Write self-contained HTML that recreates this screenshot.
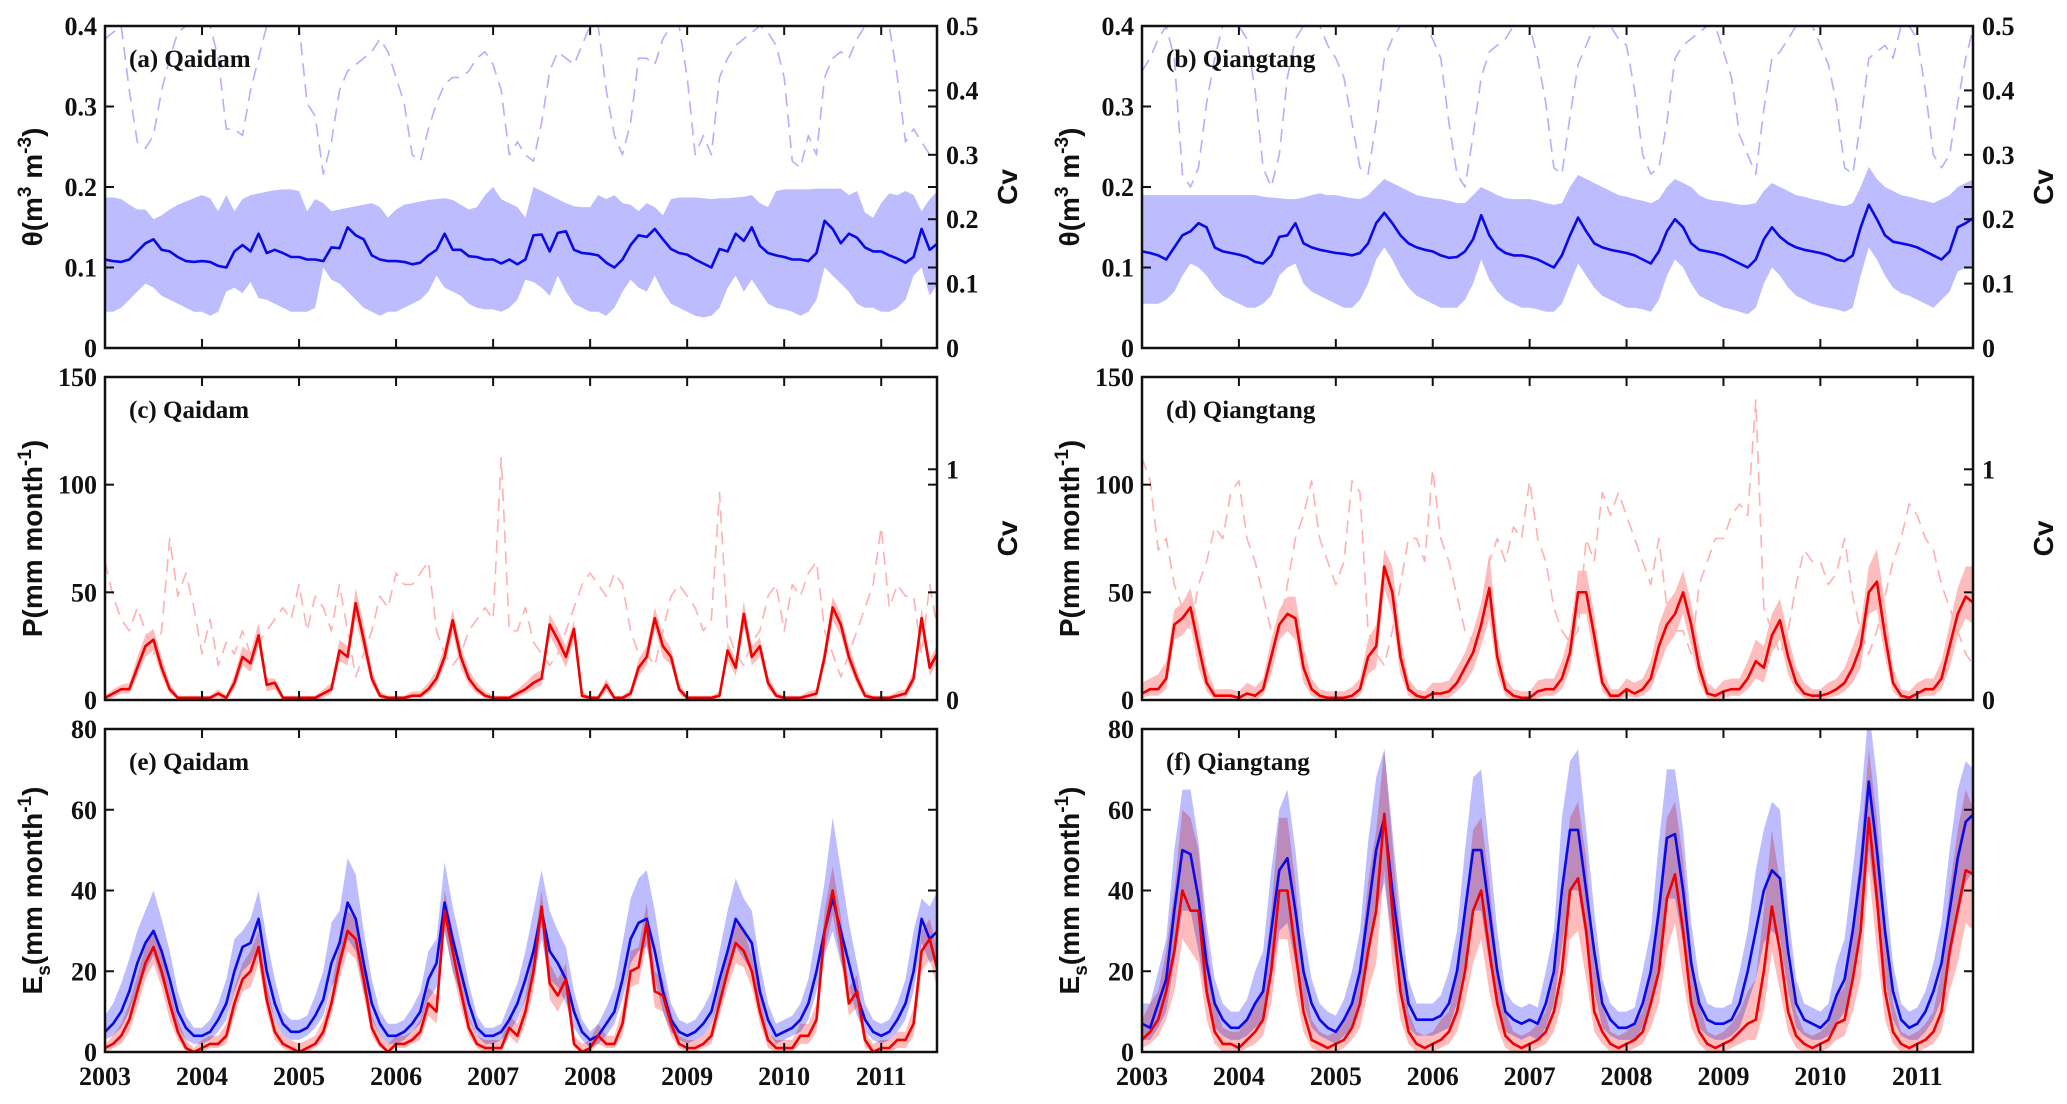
<!DOCTYPE html>
<html><head><meta charset="utf-8"><style>
html,body{margin:0;padding:0;background:#fff;}
svg{display:block;}
.tk{font-family:"Liberation Serif",serif;font-weight:bold;font-size:26px;fill:#111;}
.ttl{font-family:"Liberation Serif",serif;font-weight:bold;font-size:25px;fill:#111;}
.yl{font-family:"Liberation Sans",sans-serif;font-weight:bold;font-size:28px;fill:#111;}
</style></head><body>
<svg id="fig" width="2067" height="1104" viewBox="0 0 2067 1104" xmlns="http://www.w3.org/2000/svg"></svg>
<script>
// ---- data (monthly, Jan 2003 .. Aug 2011) ----
const years=["2003","2004","2005","2006","2007","2008","2009","2010","2011"];
const aMean=[.11,.108,.107,.11,.12,.13,.135,.122,.12,.113,.108,.107,.108,.107,.102,.10,.12,.128,.12,.142,.118,.122,.118,.113,.113,.11,.11,.108,.125,.124,.15,.14,.135,.115,.11,.108,.108,.107,.104,.106,.115,.122,.142,.122,.122,.114,.113,.11,.11,.105,.11,.104,.11,.14,.141,.12,.143,.145,.122,.118,.117,.115,.106,.10,.11,.128,.14,.138,.148,.135,.123,.118,.116,.11,.105,.10,.123,.12,.142,.133,.15,.127,.118,.115,.113,.11,.11,.108,.118,.158,.148,.13,.142,.137,.125,.12,.12,.115,.111,.106,.113,.148,.122,.13];
const aHi=[.187,.187,.185,.178,.172,.172,.16,.165,.172,.178,.182,.186,.19,.186,.17,.19,.17,.185,.19,.192,.194,.196,.197,.197,.195,.17,.185,.18,.17,.172,.174,.176,.178,.18,.175,.162,.172,.178,.18,.182,.184,.185,.186,.184,.178,.172,.175,.19,.2,.185,.18,.175,.162,.2,.195,.19,.185,.18,.176,.175,.175,.19,.185,.19,.18,.178,.17,.18,.175,.165,.185,.187,.187,.187,.186,.185,.186,.186,.187,.188,.19,.18,.175,.195,.197,.197,.197,.197,.198,.198,.198,.198,.19,.195,.168,.162,.18,.192,.19,.195,.19,.17,.185,.195];
const aLo=[.045,.045,.05,.06,.07,.08,.075,.065,.06,.055,.05,.045,.045,.04,.045,.07,.075,.068,.082,.062,.06,.055,.05,.045,.045,.045,.05,.1,.085,.08,.07,.06,.05,.045,.04,.045,.045,.05,.055,.06,.07,.09,.075,.07,.065,.055,.05,.048,.048,.045,.05,.06,.085,.082,.075,.065,.09,.07,.055,.05,.045,.045,.04,.05,.07,.085,.075,.07,.09,.07,.055,.05,.045,.04,.038,.04,.05,.075,.09,.07,.085,.07,.055,.05,.048,.045,.04,.045,.06,.1,.09,.08,.07,.055,.05,.05,.045,.045,.05,.06,.09,.1,.065,.08];
const aCv=[.48,.49,.5,.4,.32,.31,.33,.4,.45,.49,.5,.5,.5,.5,.45,.34,.34,.33,.4,.45,.5,.5,.5,.5,.5,.38,.36,.27,.32,.4,.43,.44,.45,.46,.48,.46,.42,.38,.3,.29,.34,.38,.41,.42,.42,.43,.45,.46,.44,.4,.3,.32,.3,.29,.35,.43,.46,.45,.44,.47,.5,.5,.4,.33,.3,.35,.45,.45,.44,.48,.5,.5,.42,.3,.33,.3,.42,.45,.47,.48,.49,.5,.49,.47,.42,.29,.28,.33,.3,.42,.45,.46,.45,.48,.5,.5,.5,.5,.42,.32,.34,.32,.3,.29];
const bMean=[.12,.118,.115,.11,.125,.14,.145,.155,.15,.125,.12,.118,.116,.113,.107,.105,.115,.138,.14,.155,.13,.125,.122,.12,.118,.117,.115,.118,.13,.155,.168,.155,.14,.13,.125,.122,.12,.115,.112,.113,.12,.135,.165,.14,.125,.118,.115,.115,.113,.11,.105,.1,.115,.14,.162,.145,.13,.125,.122,.12,.118,.115,.11,.105,.12,.145,.16,.15,.13,.122,.12,.118,.115,.11,.105,.1,.11,.135,.15,.138,.13,.125,.122,.12,.118,.115,.11,.108,.115,.15,.178,.16,.14,.132,.13,.128,.125,.12,.115,.11,.12,.15,.155,.162];
const bHi=[.19,.19,.19,.19,.19,.19,.19,.19,.19,.19,.19,.19,.19,.19,.19,.188,.187,.186,.185,.185,.187,.19,.192,.19,.19,.188,.186,.185,.19,.2,.21,.205,.2,.195,.19,.188,.186,.185,.183,.18,.18,.19,.2,.195,.19,.186,.185,.185,.185,.183,.18,.178,.18,.2,.215,.21,.205,.2,.195,.19,.188,.185,.183,.18,.185,.2,.21,.205,.2,.19,.185,.183,.182,.18,.178,.178,.18,.195,.205,.2,.195,.19,.188,.185,.183,.18,.178,.176,.18,.2,.225,.21,.2,.195,.19,.188,.185,.183,.18,.185,.19,.2,.205,.21];
const bLo=[.055,.055,.055,.06,.07,.09,.105,.1,.09,.075,.065,.06,.055,.05,.05,.055,.065,.09,.1,.105,.08,.07,.065,.06,.055,.05,.05,.06,.08,.11,.125,.11,.09,.075,.065,.06,.055,.05,.05,.05,.06,.08,.11,.085,.07,.06,.055,.05,.05,.048,.045,.045,.055,.08,.105,.09,.075,.065,.06,.055,.05,.05,.048,.045,.06,.09,.11,.1,.08,.065,.06,.055,.05,.048,.045,.042,.05,.08,.1,.09,.075,.065,.06,.055,.052,.05,.048,.045,.05,.09,.125,.11,.09,.075,.068,.065,.06,.055,.05,.06,.07,.095,.1,.1];
const bCv=[.43,.45,.48,.5,.45,.27,.25,.28,.38,.45,.5,.5,.5,.48,.4,.28,.25,.3,.42,.48,.5,.5,.5,.47,.45,.42,.35,.28,.27,.35,.45,.48,.5,.5,.5,.5,.48,.45,.35,.27,.25,.33,.42,.46,.47,.48,.5,.5,.5,.45,.38,.28,.27,.36,.44,.47,.5,.5,.5,.48,.47,.4,.3,.27,.28,.35,.45,.47,.48,.49,.5,.5,.46,.42,.33,.3,.27,.37,.45,.46,.48,.5,.5,.5,.47,.44,.38,.28,.27,.35,.45,.46,.47,.45,.5,.5,.48,.4,.3,.28,.3,.38,.45,.5];
const cMean=[1,3,5,5,15,25,28,15,5,1,1,1,1,1,3,1,8,20,17,30,7,8,1,1,1,1,1,3,5,23,20,45,28,10,2,1,1,1,2,2,5,10,20,37,20,10,5,2,1,1,1,3,5,8,10,35,28,20,33,2,1,1,7,1,1,3,15,20,38,25,20,5,1,1,1,1,2,23,15,40,20,25,8,2,1,1,1,2,3,20,43,35,20,10,2,1,1,1,2,3,10,38,15,22];
const cHi=[2,5,7,8,20,30,33,20,8,2,2,2,2,2,5,2,12,25,22,36,10,10,2,2,2,2,2,5,8,28,25,52,35,14,4,2,2,2,4,4,8,14,25,42,25,14,8,4,2,2,2,5,8,12,14,40,33,25,37,4,2,2,10,2,2,5,19,25,43,30,24,8,2,2,2,2,4,27,19,46,25,29,11,4,2,2,2,4,5,25,48,40,25,14,4,2,2,2,4,5,14,43,19,26];
const cLo=[0,1,3,3,11,20,23,11,3,0,0,0,0,0,1,0,5,16,13,25,4,5,0,0,0,0,0,1,3,18,16,38,22,7,1,0,0,0,1,1,3,7,16,31,15,7,3,1,0,0,0,1,3,5,7,30,23,15,28,1,0,0,4,0,0,1,11,16,33,20,16,3,0,0,0,0,1,19,11,34,16,20,5,1,0,0,0,1,1,16,37,30,16,7,1,0,0,0,1,1,7,33,11,18];
const cCv=[.6,.45,.35,.3,.4,.3,.2,.3,.7,.45,.55,.4,.2,.35,.15,.25,.2,.3,.2,.25,.3,.35,.4,.35,.5,.3,.45,.4,.3,.5,.3,.1,.2,.3,.45,.4,.55,.5,.5,.55,.6,.3,.2,.15,.2,.3,.35,.4,.35,1.05,.3,.3,.4,.25,.2,.15,.2,.3,.4,.5,.55,.5,.45,.55,.5,.3,.2,.2,.15,.3,.45,.5,.45,.4,.3,.35,.9,.3,.2,.15,.25,.3,.45,.5,.3,.5,.45,.55,.6,.3,.2,.1,.2,.3,.4,.5,.75,.4,.5,.45,.45,.2,.5,.3];
const dMean=[3,5,5,10,35,38,43,25,8,2,2,2,1,3,2,5,20,35,40,38,15,5,2,1,1,1,2,5,20,25,62,50,20,5,2,1,3,3,4,8,15,22,35,52,20,5,2,1,1,4,5,5,10,22,50,50,30,8,2,2,5,3,5,10,25,35,40,50,35,15,3,2,4,5,5,10,18,15,30,37,20,8,3,2,2,3,5,8,15,25,50,55,30,8,2,1,3,5,5,10,25,40,48,45];
const dHi=[8,10,12,18,42,45,52,35,15,5,5,5,4,8,6,10,28,42,48,48,25,10,5,4,4,4,6,10,28,35,70,62,30,10,5,4,8,8,9,15,22,32,45,68,30,10,5,4,4,9,10,10,18,32,60,60,40,15,5,5,10,8,10,18,35,45,50,60,45,25,8,5,9,10,10,18,28,25,40,47,30,15,8,5,5,8,10,15,25,35,62,70,45,15,5,4,8,10,10,18,35,52,62,62];
const dLo=[1,2,2,5,28,30,35,15,4,0,0,0,0,1,0,2,12,28,32,28,8,2,0,0,0,0,0,2,12,15,52,40,12,2,0,0,1,1,1,4,8,14,25,38,12,2,0,0,0,1,2,2,5,14,40,40,20,4,0,0,2,1,2,5,15,25,30,40,25,8,1,0,1,2,2,5,10,8,22,28,12,4,1,0,0,1,2,4,8,15,40,42,20,4,0,0,1,2,2,5,15,30,38,35];
const dCv=[1.05,.95,.65,.7,.5,.4,.3,.5,.6,.75,.7,.9,.95,.7,.6,.45,.3,.3,.5,.7,.8,.95,.7,.6,.5,.6,.95,.9,.3,.2,.15,.3,.5,.7,.7,.6,1.0,.7,.6,.45,.3,.25,.3,.6,.7,.6,.75,.7,.95,.7,.6,.4,.3,.25,.3,.7,.6,.9,.8,.9,.8,.7,.6,.5,.7,.4,.3,.3,.2,.5,.6,.7,.7,.8,.85,.8,1.3,.4,.3,.2,.3,.5,.65,.6,.6,.5,.55,.7,.45,.3,.2,.3,.45,.6,.7,.85,.8,.7,.65,.5,.4,.3,.2,.15];
const eBlue=[5,7,10,15,22,27,30,25,18,10,6,4,4,5,8,12,20,26,27,33,20,12,7,5,5,6,9,13,22,27,37,33,22,12,7,4,4,5,7,10,18,22,37,28,20,12,6,4,4,5,8,12,18,25,35,25,22,18,10,5,3,4,7,10,18,28,32,33,25,15,8,5,4,5,7,10,18,25,33,30,27,15,8,4,5,6,8,12,20,30,38,30,22,14,8,5,4,5,8,12,20,33,28,30];
const eBlueHi=[9,12,17,23,30,35,40,33,25,15,9,6,6,8,12,18,28,30,33,40,28,18,10,8,8,9,14,20,32,35,48,44,30,18,10,7,7,8,11,15,25,28,47,36,27,17,9,6,6,7,12,17,25,35,45,35,30,26,15,8,5,7,11,16,27,38,43,45,35,22,12,8,7,8,11,15,25,35,43,38,35,22,12,7,8,9,12,18,30,42,58,45,32,22,12,8,7,8,12,18,30,38,36,40];
const eBlueLo=[3,4,6,10,16,20,24,18,12,6,3,2,2,3,5,8,15,20,22,26,14,8,4,3,3,4,6,9,16,20,28,25,15,8,4,2,2,3,5,7,13,16,30,20,14,8,4,2,2,3,5,8,13,18,28,18,16,12,6,3,1,2,4,7,13,22,25,26,18,10,5,3,2,3,4,7,13,19,26,23,20,10,5,2,3,4,5,8,15,24,30,22,16,9,5,3,2,3,5,8,15,27,22,24];
const eRed=[1,2,4,8,15,22,26,20,12,5,1,0,1,2,2,4,12,18,20,26,13,5,2,1,0,1,2,5,12,22,30,28,18,6,2,0,2,2,3,5,12,10,35,25,15,6,2,1,1,1,6,4,10,20,36,17,14,18,2,0,1,4,2,2,7,20,21,32,15,14,7,2,1,1,2,4,12,20,27,25,20,10,3,1,1,1,4,4,8,30,40,28,12,15,3,0,1,1,3,3,7,25,28,20];
const eRedHi=[2,4,7,12,19,26,30,25,16,8,3,1,3,4,4,7,16,22,25,30,17,8,4,3,2,3,4,8,16,27,35,33,22,9,4,2,4,4,5,8,16,14,40,30,19,9,4,3,3,3,9,7,14,25,40,22,18,22,4,2,3,7,4,4,11,25,26,37,20,18,10,4,3,3,4,7,16,25,32,30,24,14,5,3,3,3,7,7,12,35,46,34,16,19,5,2,3,3,5,5,11,30,33,25];
const eRedLo=[0,1,2,5,11,18,22,16,8,3,0,0,0,1,1,2,9,15,16,22,10,3,1,0,0,0,1,3,9,18,25,23,14,4,1,0,1,1,2,3,9,7,30,20,11,4,1,0,0,0,4,2,7,15,32,13,10,14,1,0,0,2,1,1,4,16,17,27,11,10,4,1,0,0,1,2,9,16,22,21,16,7,1,0,0,0,2,2,5,25,34,23,9,11,1,0,0,0,1,1,4,20,23,15];
const fBlue=[7,6,12,18,35,50,49,38,22,12,8,6,6,8,12,15,30,45,48,35,20,12,8,6,5,8,12,20,35,50,58,40,25,12,8,8,8,9,12,20,35,50,50,35,20,10,8,7,8,7,12,20,40,55,55,40,25,12,8,6,6,7,12,20,35,53,54,40,22,12,8,7,7,8,12,20,30,40,45,43,25,12,8,7,6,8,14,18,30,45,67,50,30,15,8,6,7,10,15,22,35,48,57,59];
const fBlueHi=[12,12,20,28,50,65,65,52,32,18,12,10,10,13,20,25,45,60,65,50,30,18,12,10,9,13,20,30,52,68,75,55,35,18,12,12,12,14,20,30,50,68,70,50,30,15,12,11,12,11,20,30,58,72,75,55,35,18,12,10,10,11,20,30,52,70,70,55,32,18,12,11,11,12,20,30,45,55,62,60,35,18,12,11,10,12,22,28,45,62,85,68,42,22,12,10,11,15,22,32,50,65,72,70];
const fBlueLo=[3,3,6,10,22,35,35,25,13,6,4,3,3,4,6,8,18,30,32,22,12,6,4,3,2,4,6,12,22,35,42,28,15,6,4,4,4,5,6,12,22,35,35,22,12,5,4,3,4,3,6,12,26,40,40,27,15,6,4,3,3,3,6,12,22,38,38,27,13,6,4,3,3,4,6,12,18,27,30,28,15,6,4,3,3,4,7,10,18,30,50,35,18,8,4,3,3,5,8,13,22,33,42,45];
const fRed=[3,5,8,15,25,40,35,35,15,5,2,2,1,3,5,8,20,40,40,25,10,3,2,1,2,3,6,12,25,35,59,35,15,5,2,1,2,3,5,10,20,35,40,25,12,4,2,1,2,3,5,10,20,40,43,30,10,5,2,1,2,3,5,12,20,38,44,30,12,5,2,1,2,3,5,7,8,20,36,25,10,4,2,1,2,3,7,8,18,30,58,38,15,5,2,1,2,3,5,10,25,35,45,44];
const fRedHi=[8,12,15,25,40,60,58,50,28,12,6,5,5,8,12,16,35,58,58,42,20,8,5,4,5,8,12,22,42,55,75,52,28,10,5,4,5,8,10,20,35,55,58,42,22,10,5,4,5,7,10,18,35,58,62,48,22,12,5,4,5,7,10,22,38,58,62,48,25,12,5,4,5,7,10,15,18,35,55,42,22,10,5,4,5,7,14,16,32,50,75,58,30,12,5,4,5,7,10,20,40,55,65,60];
const fRedLo=[1,2,4,8,15,28,25,22,8,2,0,0,0,1,2,4,12,28,28,15,5,1,0,0,0,1,3,6,15,22,45,22,8,2,0,0,0,1,2,5,12,22,28,15,6,1,0,0,0,1,2,5,12,28,30,18,5,2,0,0,0,1,2,6,12,25,32,18,6,2,0,0,0,1,2,3,3,10,25,15,5,1,0,0,0,1,3,4,10,18,45,25,8,2,0,0,0,1,2,5,15,22,32,30];
const ticksA=[0,0.1,0.2,0.3,0.4], ticksACv=[0,0.1,0.2,0.3,0.4,0.5];
const ticksP=[0,50,100,150], ticksPCv=[0,1];
const ticksE=[0,20,40,60,80];

const NS="http://www.w3.org/2000/svg";
const svg=document.getElementById('fig');
const XMAX=8.575;
function el(tag,attrs,parent){const e=document.createElementNS(NS,tag);for(const k in attrs)e.setAttribute(k,attrs[k]);(parent||svg).appendChild(e);return e;}
let clipN=0;
function panel(o){
  const {x0,x1,y0,y1,ymax,cvmax,name}=o;
  const g=el('g',{});
  
  
  const xs=i=>x0+(i/12)/XMAX*(x1-x0);
  const ys=v=>y1-(v/ymax)*(y1-y0);
  const yc=v=>y1-(v/cvmax)*(y1-y0);
  const id='clip'+(clipN++);
  const cp=el('clipPath',{id:id},g);el('rect',{x:x0,y:y0,width:x1-x0,height:y1-y0},cp);
  const pg=el('g',{'clip-path':'url(#'+id+')'},g);
  function band(hi,lo,color,nm){
    let d='M';
    hi.forEach((v,i)=>{d+=xs(i).toFixed(1)+','+ys(v).toFixed(1)+' L';});
    for(let i=lo.length-1;i>=0;i--){d+=xs(i).toFixed(1)+','+ys(lo[i]).toFixed(1)+(i?' L':' Z');}
    const p=el('path',{d:d,fill:color,style:'mix-blend-mode:multiply'},pg);
    
    
  }
  function line(arr,sc,color,w,dash,nm){
    const pts=arr.map((v,i)=>xs(i).toFixed(1)+','+sc(v).toFixed(1)).join(' ');
    const a={points:pts,fill:'none',stroke:color,'stroke-width':w,'stroke-linejoin':'round'};
    if(dash)a['stroke-dasharray']=dash;
    const p=el('polyline',a,pg);
    
    
  }
  (o.bands||[]).forEach(b=>band(b[0],b[1],b[2],b[3]));
  if(o.cv)line(o.cv,yc,o.cvColor,1.6,'13,8','cv-dashed-line');
  (o.lines||[]).forEach(l=>line(l[0],ys,l[1],2.6,null,l[2]));
  const ax=el('rect',{x:x0,y:y0,width:x1-x0,height:y1-y0,fill:'none',stroke:'#111','stroke-width':2.5},g);
  
  
  years.forEach((yr,k)=>{
    const x=x0+k/XMAX*(x1-x0);
    el('line',{x1:x,x2:x,y1:y1,y2:y1-9,stroke:'#111','stroke-width':2},g);
    el('line',{x1:x,x2:x,y1:y0,y2:y0+9,stroke:'#111','stroke-width':2},g);
    if(o.xlabels){const t=el('text',{x:x,y:y1+33,'text-anchor':'middle',class:'tk'},g);t.textContent=yr;
      
      }
  });
  o.yt.forEach(v=>{
    const y=ys(v);
    el('line',{x1:x0,x2:x0+9,y1:y,y2:y,stroke:'#111','stroke-width':2},g);
    el('line',{x1:x1,x2:x1-9,y1:y,y2:y,stroke:'#111','stroke-width':2},g);
    const t=el('text',{x:x0-8,y:y+9,'text-anchor':'end',class:'tk'},g);t.textContent=String(v);
    
    
  });
  if(o.cvt){o.cvt.forEach(v=>{
    const y=yc(v);
    el('line',{x1:x1,x2:x1-9,y1:y,y2:y,stroke:'#111','stroke-width':2},g);
    const t=el('text',{x:x1+9,y:y+9,'text-anchor':'start',class:'tk'},g);t.textContent=String(v);
    
    
  });
    const t=el('text',{x:x1+80,y:(y0+y1)/2,'text-anchor':'middle',class:'yl',transform:'rotate(-90 '+(x1+80)+' '+(y0+y1)/2+')'},g);
    t.textContent='Cv';
    
    
  }
  const tt=el('text',{x:x0+24,y:y0+41,class:'ttl'},g);tt.textContent=o.title;
  
  
  const lx=x0-63, ly=(y0+y1)/2;
  const yl=el('text',{x:lx,y:ly,'text-anchor':'middle',class:'yl',transform:'rotate(-90 '+lx+' '+ly+')'},g);
  yl.innerHTML=o.ylab;
  
  
}
const BB='#bcbcff', RB='#ffbcbc';
const thetaLab='θ(m<tspan dy="-11" font-size="19">3</tspan><tspan dy="11"> m</tspan><tspan dy="-11" font-size="19">-3</tspan><tspan dy="11">)</tspan>';
const pLab='P(mm month<tspan dy="-11" font-size="19">-1</tspan><tspan dy="11">)</tspan>';
const eLab='E<tspan dy="8" font-size="19">s</tspan><tspan dy="-8">(mm month</tspan><tspan dy="-11" font-size="19">-1</tspan><tspan dy="11">)</tspan>';
const L={x0:105,x1:937}, R={x0:1142,x1:1973};
const A={y0:26,y1:348}, C={y0:377,y1:700}, E={y0:729,y1:1052};
panel({...L,...A,name:'panel-a-qaidam-theta',title:'(a) Qaidam',ymax:0.4,cvmax:0.5,yt:ticksA,cvt:ticksACv,ylab:thetaLab,
  bands:[[aHi,aLo,BB,'theta-range-band']],cv:aCv,cvColor:'#b0b0ff',lines:[[aMean,'#0a0ae6','theta-mean-line']]});
panel({...R,...A,name:'panel-b-qiangtang-theta',title:'(b) Qiangtang',ymax:0.4,cvmax:0.5,yt:ticksA,cvt:ticksACv,ylab:thetaLab,
  bands:[[bHi,bLo,BB,'theta-range-band']],cv:bCv,cvColor:'#b0b0ff',lines:[[bMean,'#0a0ae6','theta-mean-line']]});
panel({...L,...C,name:'panel-c-qaidam-precip',title:'(c) Qaidam',ymax:150,cvmax:1.4,yt:ticksP,cvt:ticksPCv,ylab:pLab,
  bands:[[cHi,cLo,RB,'precip-range-band']],cv:cCv,cvColor:'#ffb0b0',lines:[[cMean,'#f00000','precip-mean-line']]});
panel({...R,...C,name:'panel-d-qiangtang-precip',title:'(d) Qiangtang',ymax:150,cvmax:1.4,yt:ticksP,cvt:ticksPCv,ylab:pLab,
  bands:[[dHi,dLo,RB,'precip-range-band']],cv:dCv,cvColor:'#ffb0b0',lines:[[dMean,'#f00000','precip-mean-line']]});
panel({...L,...E,name:'panel-e-qaidam-es',title:'(e) Qaidam',ymax:80,yt:ticksE,ylab:eLab,xlabels:true,
  bands:[[eRedHi,eRedLo,RB,'es-red-band'],[eBlueHi,eBlueLo,BB,'es-blue-band']],
  lines:[[eBlue,'#0a0ae6','es-blue-line'],[eRed,'#f00000','es-red-line']]});
panel({...R,...E,name:'panel-f-qiangtang-es',title:'(f) Qiangtang',ymax:80,yt:ticksE,ylab:eLab,xlabels:true,
  bands:[[fRedHi,fRedLo,RB,'es-red-band'],[fBlueHi,fBlueLo,BB,'es-blue-band']],
  lines:[[fBlue,'#0a0ae6','es-blue-line'],[fRed,'#f00000','es-red-line']]});
</script>
</body></html>
